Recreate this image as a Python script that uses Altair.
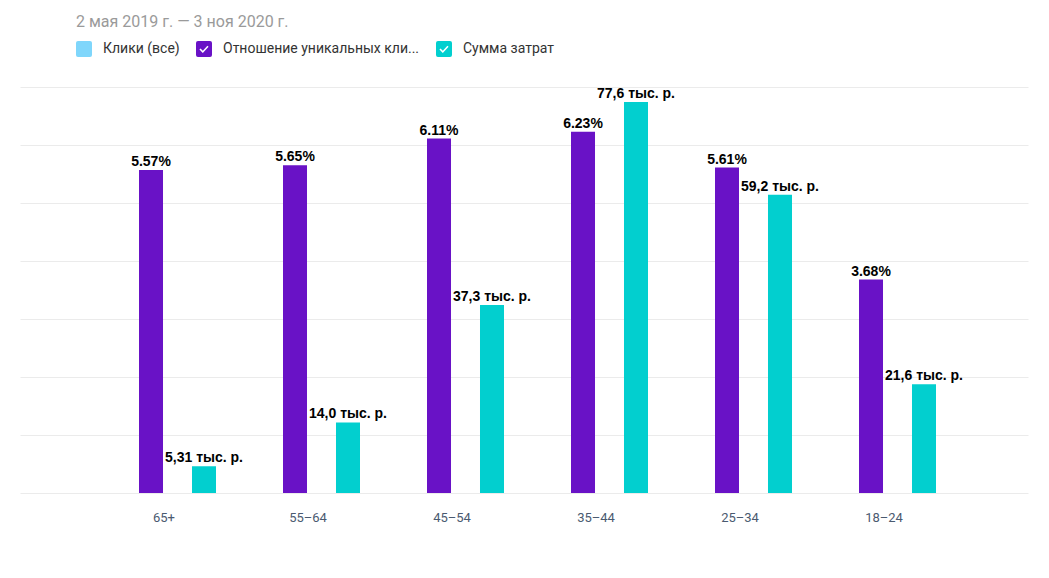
import altair as alt
import pandas as pd

# ---- data ----
ages = ["65+", "55–64", "45–54", "35–44", "25–34", "18–24"]
ratio_pct = [5.57, 5.65, 6.11, 6.23, 5.61, 3.68]
spend_k = [5.31, 14.0, 37.3, 77.6, 59.2, 21.6]
series_names = ["Клики (все)", "Отношение уникальных кли...", "Сумма затрат"]
series_colors = ["#7fd6fb", "#6912c6", "#02cfcf"]
title_text = "2 мая 2019 г. — 3 ноя 2020 г."


def spend_label(v):
    txt = f"{v:.2f}" if v < 10 else f"{v:.1f}"
    return txt.replace(".", ",") + " тыс. р."


rows = []
for a, r, s in zip(ages, ratio_pct, spend_k):
    rows.append({"age": a, "series": series_names[1], "value": r, "label": f"{r:.2f}%"})
    rows.append({"age": a, "series": series_names[2], "value": s, "label": spend_label(s)})
df = pd.DataFrame(rows)

# rounded square legend symbols (one with a check-mark hole)
RS = ("M-0.75,-1H0.75Q1,-1 1,-0.75V0.75Q1,1 0.75,1H-0.75Q-1,1 -1,0.75V-0.75Q-1,-1 -0.75,-1Z")
CHECK = "M-0.43,-0.06L-0.57,0.07L-0.15,0.49L0.57,-0.28L0.43,-0.41L-0.15,0.22Z"
RS_CHECK = RS + CHECK

legend = alt.Legend(
    orient="none", legendX=56, legendY=-46, direction="horizontal", title=None,
    symbolSize=256, symbolStrokeWidth=0, labelFont="Roboto", labelFontSize=14,
    labelColor="#333333", labelOffset=11, columnPadding=16, labelLimit=400,
    symbolOpacity=1,
)

x_enc = alt.X(
    "age:N", sort=ages,
    scale=alt.Scale(domain=ages, paddingInner=0, paddingOuter=0.5),
    axis=alt.Axis(title=None, labelAngle=0, ticks=False, domain=False, grid=False,
                  labelPadding=18, labelFont="Roboto", labelFontSize=13,
                  labelColor="#4a5a70"),
)
xo_enc = alt.XOffset(
    "series:N",
    scale=alt.Scale(domain=series_names[1:], range=[47, 124], paddingInner=0.547, paddingOuter=0),
)
color_enc = alt.Color("series:N", scale=alt.Scale(domain=series_names, range=series_colors),
                      legend=legend)

base = alt.Chart(df)

y_ratio = alt.Y("value:Q", scale=alt.Scale(domain=[0, 7], nice=False),
                axis=alt.Axis(title=None, labels=False, ticks=False, domain=False, grid=True,
                              gridColor="#ebebeb", values=[0, 1, 2, 3, 4, 5, 6, 7]))
y_spend = alt.Y("value:Q", scale=alt.Scale(domain=[0, 80.6], nice=False), axis=None)

text_style = dict(font="Liberation Sans", fontSize=14, fontWeight="bold", color="#000000",
                  baseline="alphabetic", dy=-4, align="center")

ratio_bars = base.transform_filter(alt.datum.series == series_names[1]).mark_bar().encode(
    x=x_enc, xOffset=xo_enc, y=y_ratio, color=color_enc)
ratio_text = base.transform_filter(alt.datum.series == series_names[1]).mark_text(**text_style).encode(
    x=x_enc, xOffset=xo_enc, y=y_ratio, text="label:N")

spend_bars = base.transform_filter(alt.datum.series == series_names[2]).mark_bar().encode(
    x=x_enc, xOffset=xo_enc, y=y_spend, color=color_enc)
spend_text = base.transform_filter(alt.datum.series == series_names[2]).mark_text(**text_style).encode(
    x=x_enc, xOffset=xo_enc, y=y_spend, text="label:N")

legend_pts = base.transform_filter("false").mark_point(filled=True, opacity=1).encode(
    x=alt.value(0), y=alt.value(0), color=color_enc,
    shape=alt.Shape("series:N", scale=alt.Scale(domain=series_names, range=[RS, RS_CHECK, RS_CHECK]),
                    legend=legend),
)

chart = alt.layer(
    alt.layer(ratio_bars, ratio_text),
    alt.layer(spend_bars, spend_text),
    legend_pts,
).resolve_scale(y="independent").properties(
    width=1008, height=406,
    autosize=alt.AutoSizeParams(type="none"),
    padding={"left": 20, "top": 87, "right": 21, "bottom": 85},
    title=alt.TitleParams(title_text, anchor="start", dx=56, offset=0, dy=2, baseline="alphabetic",
                          font="Roboto", fontSize=16, fontWeight="normal", color="#9a9a9a"),
).configure(background="white").configure_view(stroke=None)

chart.save("out.html", embed_options={"renderer": "svg", "actions": False})
